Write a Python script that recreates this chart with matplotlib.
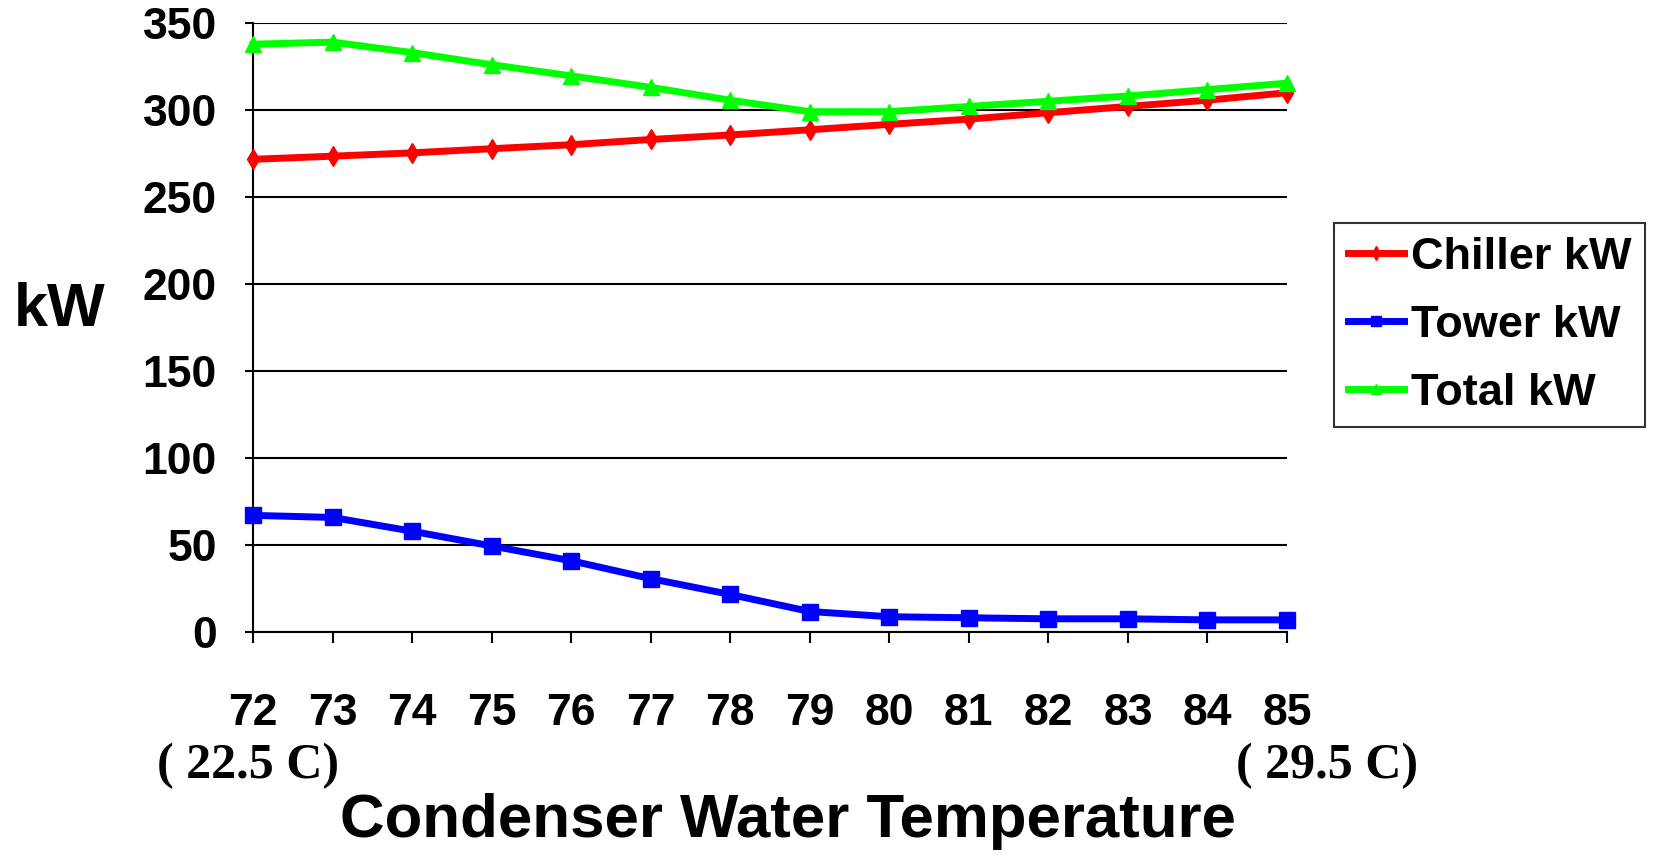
import matplotlib
matplotlib.use("Agg")
import matplotlib.pyplot as plt

# condenser water temperature (F) and power draw (kW)
temps = [72, 73, 74, 75, 76, 77, 78, 79, 80, 81, 82, 83, 84, 85]
chiller_kw = [271.6, 273.4, 275.3, 277.7, 280.0, 283.0, 285.6, 288.6, 291.7, 294.7, 298.4, 302.0, 305.6, 309.9]
tower_kw = [66.8, 65.6, 57.7, 49.2, 40.7, 30.4, 21.3, 11.5, 8.5, 7.9, 7.3, 7.3, 6.7, 6.7]
total_kw = [337.8, 339.0, 333.0, 326.0, 319.6, 313.0, 305.6, 299.0, 299.0, 302.0, 305.0, 308.0, 311.7, 315.4]
y_ticks = [0, 50, 100, 150, 200, 250, 300, 350]

SANS = "Liberation Sans"
SERIF = "Liberation Serif"

W, H = 1656, 857
fig = plt.figure(figsize=(W / 100, H / 100), dpi=100)
ax = fig.add_axes([253 / W, 1 - 631.5 / H, (1287 - 253) / W, (631.5 - 23) / H])

ax.plot(temps, chiller_kw, color="#ff0000", lw=5, marker="d", ms=10,
        label="Chiller kW", clip_on=False, zorder=3)
ax.plot(temps, tower_kw, color="#0000ff", lw=5, marker="s", ms=11,
        label="Tower kW", clip_on=False, zorder=3)
ax.plot(temps, total_kw, color="#00ff00", lw=5, marker="^", ms=11,
        label="Total kW", clip_on=False, zorder=3)

ax.set_xlim(temps[0], temps[-1])
ax.set_ylim(0, 350)
ax.set_xticks(temps)
ax.set_yticks(y_ticks)
ax.yaxis.grid(True, color="black", lw=1.5)
ax.set_axisbelow(True)

for side in ("top", "right"):
    ax.spines[side].set_visible(False)
for side in ("left", "bottom"):
    ax.spines[side].set_linewidth(1.5)

ax.tick_params(axis="y", direction="out", length=6, width=1.5, pad=20)
ax.tick_params(axis="x", direction="out", length=8, width=1.5, pad=36)
for lbl in ax.get_xticklabels() + ax.get_yticklabels():
    lbl.set_fontfamily(SANS)
    lbl.set_fontweight("bold")
    lbl.set_fontsize(32)

fig.text(60 / W, 1 - 311 / H, "kW", fontfamily=SANS, fontweight="bold",
         fontsize=44, ha="center", va="center")
fig.text(248 / W, 1 - 766 / H, "( 22.5 C)", fontfamily=SERIF, fontweight="bold",
         fontsize=36, ha="center", va="center")
fig.text(1327 / W, 1 - 766 / H, "( 29.5 C)", fontfamily=SERIF, fontweight="bold",
         fontsize=36, ha="center", va="center")
fig.text(788 / W, 1 - 822 / H, "Condenser Water Temperature", fontfamily=SANS,
         fontweight="bold", fontsize=44.5, ha="center", va="center")

leg = fig.legend(loc="upper left", bbox_to_anchor=(1334 / W, 1 - 223 / H),
                 prop={"family": SANS, "weight": "bold", "size": 32.5},
                 frameon=True, fancybox=False, edgecolor="black",
                 handlelength=1.25, handletextpad=0.15, borderpad=0.3,
                 labelspacing=0.6, borderaxespad=0, markerscale=0.7)
leg.get_frame().set_linewidth(1.5)

fig.savefig("out.png", dpi=100)
